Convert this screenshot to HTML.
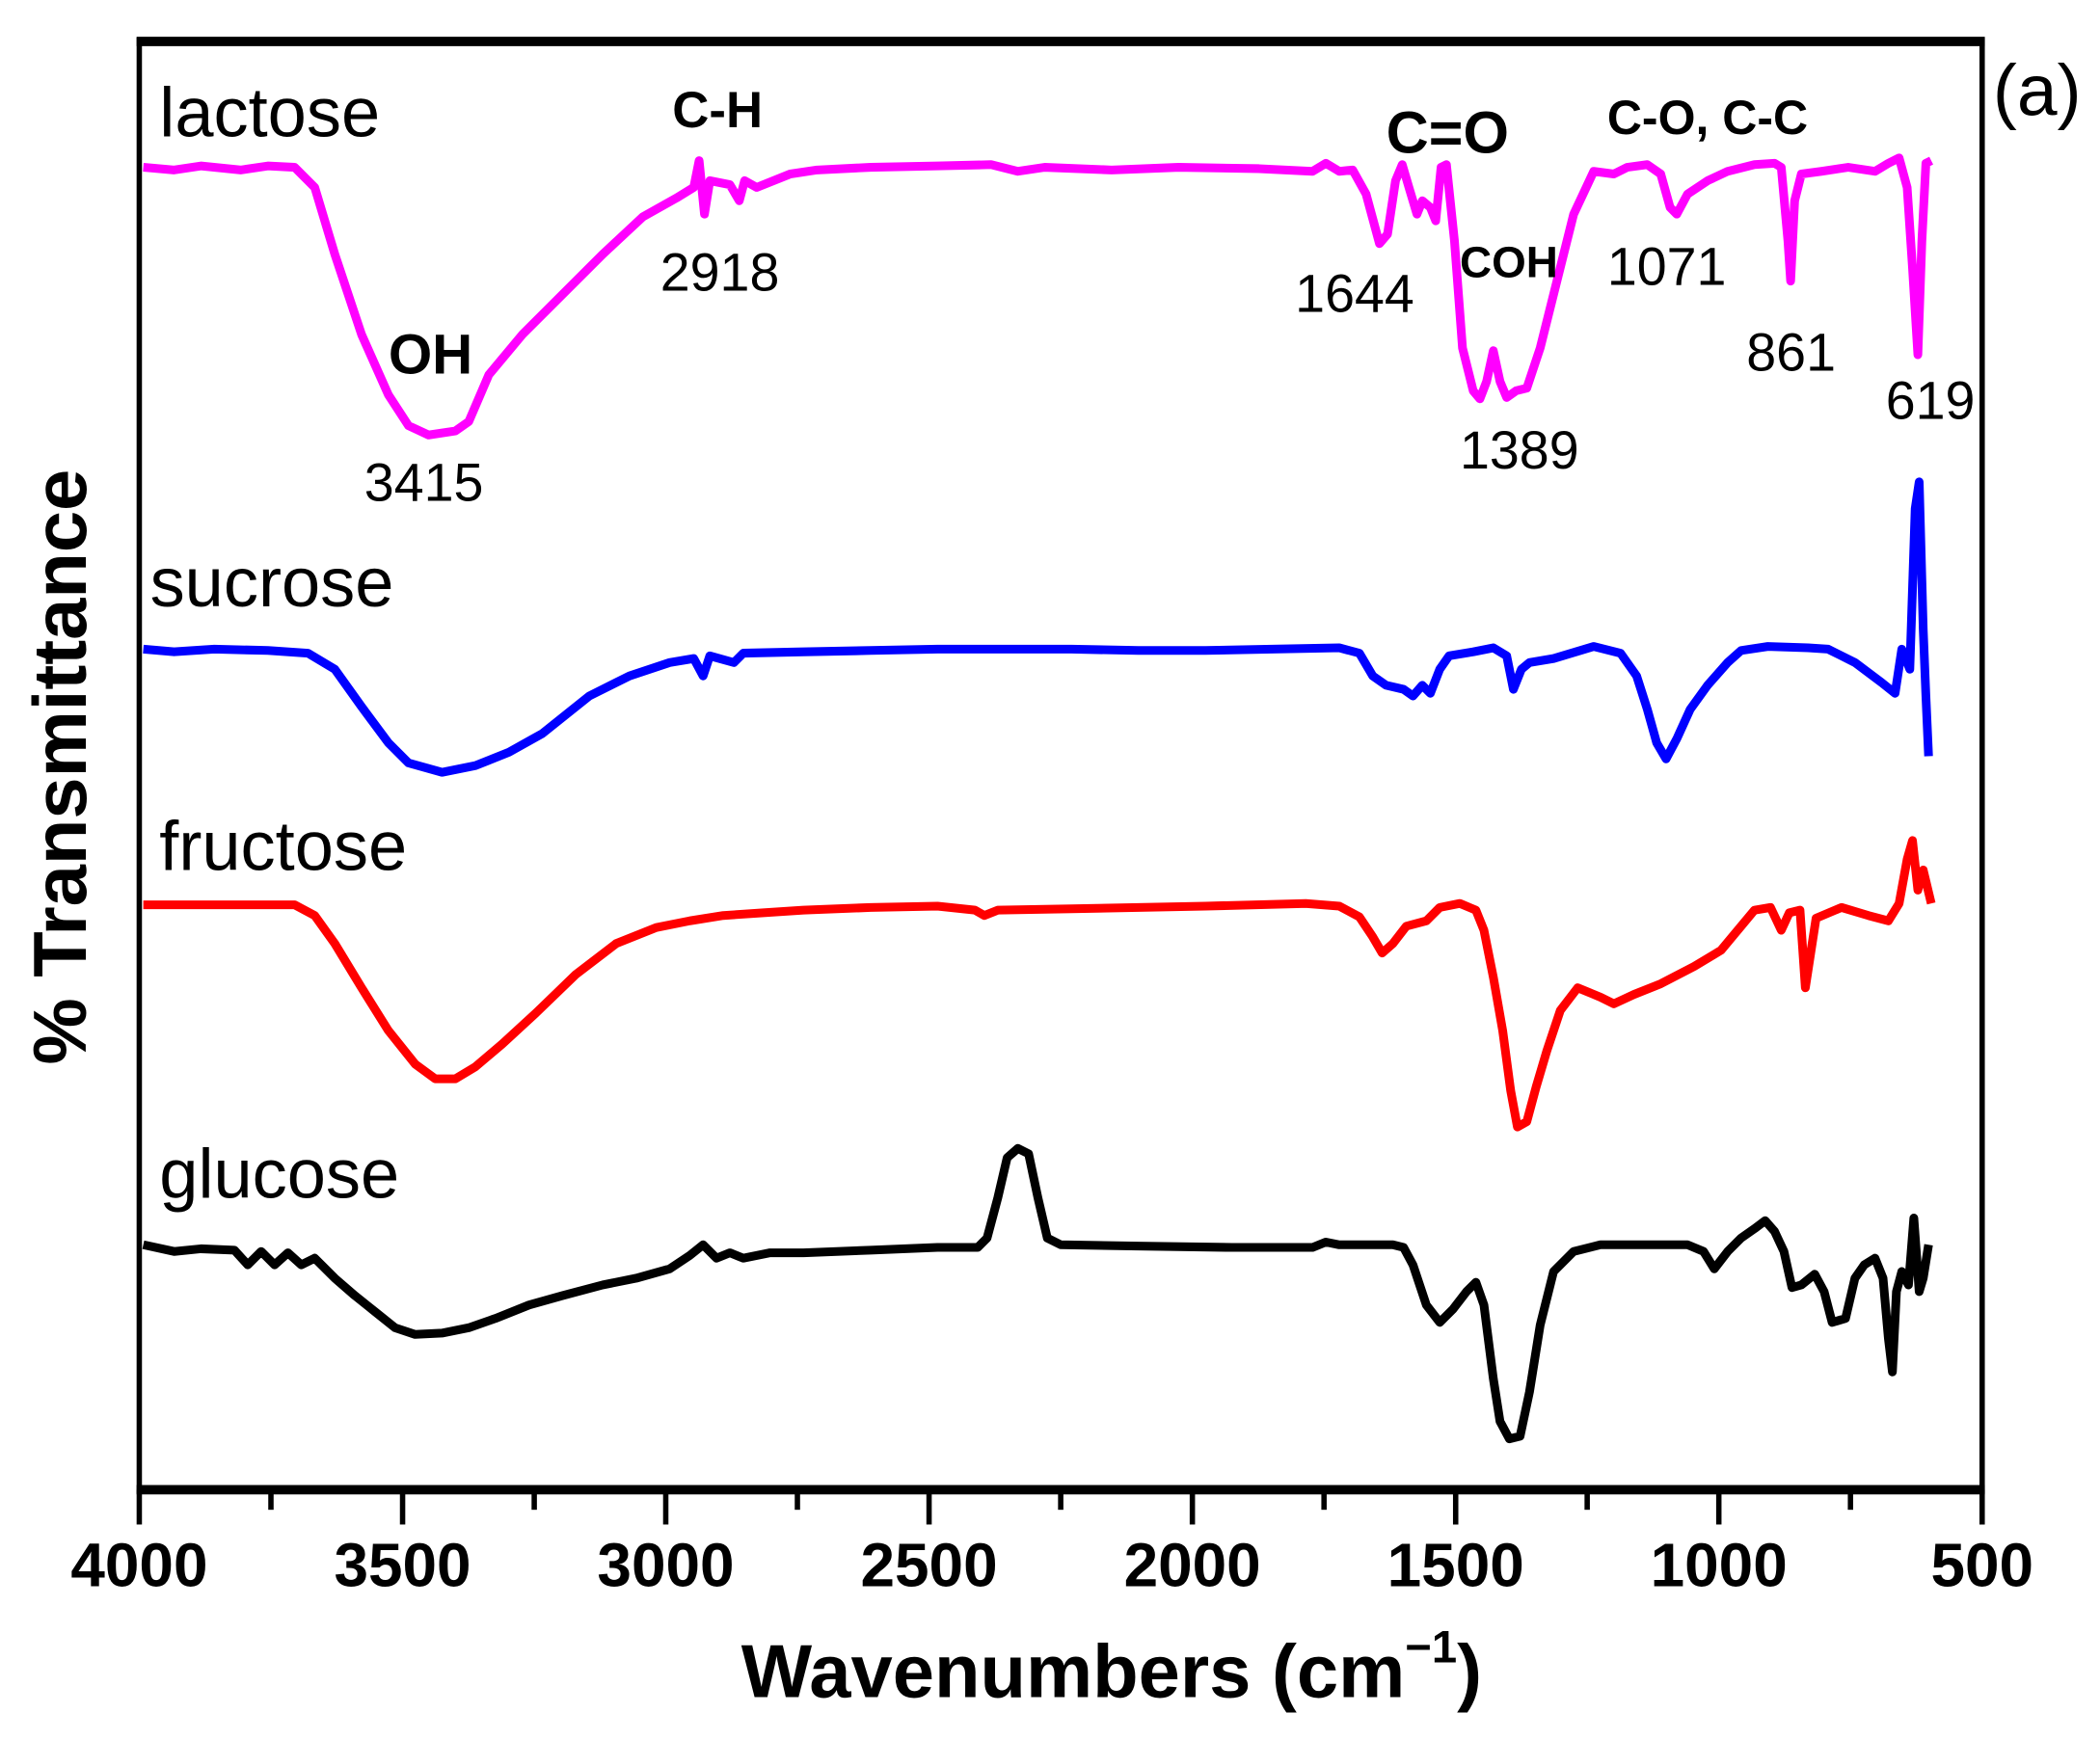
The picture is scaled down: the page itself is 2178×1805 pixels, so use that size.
<!DOCTYPE html>
<html><head><style>html,body{margin:0;padding:0;background:#fff}svg{display:block}</style></head>
<body>
<svg width="2178" height="1805" viewBox="0 0 1568 1300" preserveAspectRatio="none" xmlns="http://www.w3.org/2000/svg" font-family="Liberation Sans, Arial, sans-serif">
<rect x="0" y="0" width="1568" height="1300" fill="#fff"/>
<rect x="104" y="30" width="1376" height="1084" fill="none" stroke="#000" stroke-width="4"/>
<line x1="102" y1="31" x2="1482" y2="31" stroke="#000" stroke-width="7"/>
<line x1="102" y1="1113" x2="1482" y2="1113" stroke="#000" stroke-width="7"/>
<g stroke="#000" stroke-width="4">
<line x1="104" y1="1113" x2="104" y2="1139"/><line x1="300.6" y1="1113" x2="300.6" y2="1139"/><line x1="497.1" y1="1113" x2="497.1" y2="1139"/><line x1="693.7" y1="1113" x2="693.7" y2="1139"/><line x1="890.3" y1="1113" x2="890.3" y2="1139"/><line x1="1086.9" y1="1113" x2="1086.9" y2="1139"/><line x1="1283.4" y1="1113" x2="1283.4" y2="1139"/><line x1="1480" y1="1113" x2="1480" y2="1139"/>
<line x1="202.3" y1="1113" x2="202.3" y2="1128"/><line x1="398.9" y1="1113" x2="398.9" y2="1128"/><line x1="595.4" y1="1113" x2="595.4" y2="1128"/><line x1="792" y1="1113" x2="792" y2="1128"/><line x1="988.6" y1="1113" x2="988.6" y2="1128"/><line x1="1185.1" y1="1113" x2="1185.1" y2="1128"/><line x1="1381.7" y1="1113" x2="1381.7" y2="1128"/>
</g>
<g font-size="46" font-weight="bold" text-anchor="middle" fill="#000">
<text x="104" y="1185">4000</text><text x="300.6" y="1185">3500</text><text x="497.1" y="1185">3000</text><text x="693.7" y="1185">2500</text><text x="890.3" y="1185">2000</text><text x="1086.9" y="1185">1500</text><text x="1283.4" y="1185">1000</text><text x="1480" y="1185">500</text>
</g>
<text x="830" y="1268" font-size="56" font-weight="bold" text-anchor="middle">Wavenumbers (cm<tspan font-size="34" dy="-26">−1</tspan><tspan dy="26">)</tspan></text>
<text transform="translate(64,573) rotate(-90)" font-size="56" font-weight="bold" text-anchor="middle">% Transmittance</text>
<text x="1488" y="86" font-size="54">(a)</text>
<g fill="none" stroke-width="6.5" stroke-linejoin="round">
<polyline stroke="#ff00ff" points="107,125 130,127 150,124 180,127 200,124 220,125 235,140 250,190 270,250 290,295 305,318 320,325 340,322 350,315 365,280 390,250 420,220 450,190 480,162 505,148 518,140 522,120 526,160 530,135 545,138 552,150 556,135 565,140 590,130 610,127 650,125 700,124 740,123 760,128 780,125 830,127 880,125 940,126 980,128 990,122 1000,128 1010,127 1020,145 1030,182 1036,175 1042,135 1047,123 1052,140 1058,160 1062,150 1068,155 1072,165 1076,125 1080,123 1086,180 1092,260 1100,292 1105,298 1110,285 1115,262 1120,285 1125,297 1132,292 1140,290 1150,260 1160,220 1175,160 1190,128 1205,130 1215,125 1230,123 1240,130 1247,155 1252,160 1260,145 1275,135 1290,128 1310,123 1325,122 1330,125 1335,180 1337,210 1340,150 1345,130 1360,128 1380,125 1400,128 1410,122 1418,118 1424,140 1428,200 1432,265 1435,180 1438,122 1442,120"/>
<polyline stroke="#0000ff" points="107,485 130,487 160,485 200,486 230,488 250,500 270,528 290,555 305,570 330,577 355,572 380,562 405,548 440,520 470,505 500,495 518,492 525,505 530,490 548,495 555,488 600,487 650,486 700,485 800,485 850,486 900,486 950,485 1000,484 1015,488 1025,505 1035,512 1048,515 1055,520 1062,512 1068,518 1075,500 1082,490 1100,487 1115,484 1125,490 1130,515 1136,500 1142,495 1160,492 1190,483 1210,488 1222,505 1230,530 1237,555 1244,567 1252,552 1262,530 1275,512 1290,495 1300,486 1320,483 1350,484 1365,485 1385,495 1405,510 1415,518 1420,485 1426,500 1430,380 1433,360 1436,470 1438,520 1440,565"/>
<polyline stroke="#ff0000" points="107,676 150,676 220,676 235,684 250,705 270,738 290,770 310,795 325,806 340,806 355,797 375,780 400,757 430,728 460,705 490,693 515,688 540,684 570,682 600,680 650,678 700,677 728,680 735,684 745,680 800,679 900,677 975,675 1000,677 1015,685 1025,700 1032,712 1040,705 1050,692 1065,688 1075,678 1090,675 1102,680 1108,695 1115,730 1122,770 1128,815 1133,842 1140,838 1147,812 1155,785 1165,755 1178,738 1195,745 1205,750 1220,743 1240,735 1265,722 1285,710 1300,692 1310,680 1322,678 1330,695 1336,682 1344,680 1348,738 1352,712 1356,686 1375,678 1395,684 1410,688 1418,675 1424,642 1428,628 1432,665 1436,650 1442,675"/>
<polyline stroke="#000000" points="107,930 130,935 150,933 175,934 185,945 195,935 205,945 215,936 225,945 235,940 250,955 265,968 280,980 295,992 310,997 330,996 350,992 370,985 395,975 420,968 450,960 475,955 500,948 515,938 525,930 535,940 545,936 555,940 575,936 600,936 650,934 700,932 730,932 737,925 745,895 752,865 760,858 768,862 775,895 782,925 792,930 850,931 920,932 980,932 990,928 1000,930 1020,930 1040,930 1048,932 1055,945 1065,975 1075,988 1085,978 1095,965 1102,958 1108,975 1115,1030 1120,1062 1127,1075 1135,1073 1142,1040 1150,990 1160,950 1175,935 1195,930 1240,930 1260,930 1272,935 1280,948 1290,935 1300,925 1310,918 1318,912 1325,920 1332,935 1338,962 1345,960 1355,952 1362,965 1368,988 1378,985 1385,955 1392,945 1400,940 1406,955 1410,1000 1413,1025 1416,965 1420,950 1425,960 1429,910 1433,965 1436,955 1440,930"/>
</g>
<g fill="#000">
<text x="119" y="102" font-size="52">lactose</text>
<text x="112" y="453" font-size="52">sucrose</text>
<text x="119" y="650" font-size="52">fructose</text>
<text x="119" y="895" font-size="52">glucose</text>
<g font-weight="bold">
<text x="502" y="95" font-size="38">C-H</text>
<text x="1035" y="114" font-size="44">C=O</text>
<text x="1200" y="100" font-size="36">C-O, C-C</text>
<text x="290" y="279" font-size="42">OH</text>
<text x="1090" y="207" font-size="33">COH</text>
</g>
<g font-size="40">
<text x="493" y="217">2918</text>
<text x="272" y="374">3415</text>
<text x="967" y="233">1644</text>
<text x="1200" y="213">1071</text>
<text x="1304" y="277">861</text>
<text x="1090" y="350">1389</text>
<text x="1408" y="313">619</text>
</g>
</g>
</svg>
</body></html>
